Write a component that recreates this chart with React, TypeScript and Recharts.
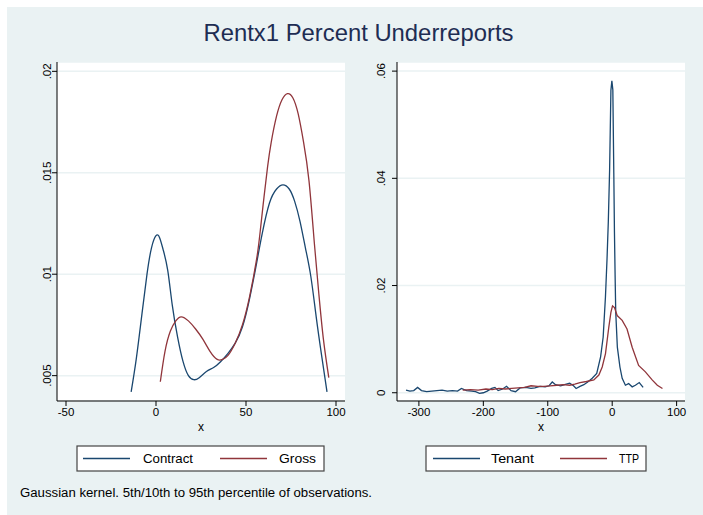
import { LineChart, Line, XAxis, YAxis, CartesianGrid } from "recharts";

// left panel: Contract / Gross densities
const contractX = [-13.8, -11, -8, -5, -2.5, 0, 2, 4, 6.5, 9, 12, 15, 18, 21, 24, 28, 32, 36, 40, 44, 48, 52, 56, 59, 63, 67, 70.5, 74, 77, 80, 83, 86, 89, 92, 95];
const contractY = [0.0042, 0.0058, 0.0079, 0.01, 0.0113, 0.0119, 0.0118, 0.0112, 0.0102, 0.0085, 0.0069, 0.0057, 0.005, 0.0048, 0.0049, 0.0052, 0.0054, 0.0057, 0.0061, 0.0066, 0.0074, 0.0088, 0.0106, 0.012, 0.0135, 0.0142, 0.0144, 0.0142, 0.0136, 0.0126, 0.0113, 0.0099, 0.0079, 0.006, 0.0042];
const grossX = [2.4, 5, 8, 11, 14, 18, 22, 26, 30, 34, 37, 40, 44, 48, 52, 56, 58, 60, 62, 64, 67, 70, 73, 76, 79, 82, 85, 88, 90.5, 93, 96];
const grossY = [0.0047, 0.0062, 0.0072, 0.0077, 0.0079, 0.0077, 0.0073, 0.0068, 0.0062, 0.0058, 0.0058, 0.006, 0.0066, 0.0075, 0.0089, 0.0108, 0.0122, 0.0138, 0.0153, 0.0165, 0.0178, 0.0186, 0.0189, 0.0187, 0.0179, 0.0165, 0.0146, 0.0115, 0.009, 0.0068, 0.0049];

// right panel: Tenant / TTP densities
const tenantX = [-320, -314, -308, -302, -296, -288, -280, -272, -264, -256, -248, -240, -234, -226, -218, -212, -206, -200, -194, -187, -182, -177, -170, -164, -157, -150, -143, -134, -126, -120, -112, -104, -98, -93, -88, -80, -74, -66, -60, -56, -50, -44, -38, -31, -24, -18, -14, -10.5, -8, -6, -4, -2, -0.5, 1, 2.5, 3.5, 4.5, 5.5, 8, 12, 15.5, 20.5, 25.5, 31, 36, 42, 48];
const tenantY = [0.0005, 0.0003, 0.0004, 0.001, 0.0004, 0.0002, 0.0003, 0.0004, 0.0005, 0.0003, 0.0004, 0.0003, 0.0008, 0.0004, 0.0003, 0.0002, -0.0001, 0.0, 0.0003, 0.0008, 0.001, 0.0004, 0.0007, 0.0012, 0.0004, 0.0002, 0.0009, 0.001, 0.0008, 0.0009, 0.0012, 0.0011, 0.0013, 0.002, 0.0015, 0.0013, 0.0015, 0.0018, 0.0013, 0.0008, 0.0012, 0.0015, 0.002, 0.0027, 0.0036, 0.0067, 0.0104, 0.0178, 0.025, 0.032, 0.0416, 0.0564, 0.0582, 0.0565, 0.041, 0.03, 0.022, 0.015, 0.0085, 0.0048, 0.0027, 0.0014, 0.0017, 0.0011, 0.0014, 0.0019, 0.001];
const ttpX = [-232, -220, -208, -196, -186, -176, -166, -156, -146, -136, -126, -116, -106, -96, -86, -76, -66, -58, -50, -40, -28.5, -20.7, -15.5, -10.4, -5.3, -2, 0.5, 3.6, 7.7, 15.5, 23, 31, 41, 51.5, 62, 70, 78];
const ttpY = [0.0005, 0.0006, 0.0005, 0.0007, 0.0006, 0.0008, 0.0007, 0.0008, 0.0009, 0.001, 0.0013, 0.0012, 0.0012, 0.0013, 0.0014, 0.0015, 0.0014, 0.0016, 0.0019, 0.0021, 0.0024, 0.0033, 0.0048, 0.0073, 0.0122, 0.015, 0.0162, 0.0159, 0.0144, 0.0135, 0.0119, 0.0085, 0.0051, 0.0039, 0.0024, 0.0014, 0.0008];

const leftXTicks = [-50, 0, 50, 100];
const leftYTicks = [0.005, 0.01, 0.015, 0.02];
const rightXTicks = [-300, -200, -100, 0, 100];
const rightYTicks = [0, 0.02, 0.04, 0.06];

const BG = "#EAF2F3";
const NAVY = "#1A476F";
const MAROON = "#90353B";
const FONT = '"Liberation Sans", Arial, sans-serif';

const rows = (xs: number[], ys: number[]) => xs.map((x, i) => ({ x, y: ys[i] }));

// stata style: .02 instead of 0.02
const fmt = (v: number) => (v === 0 ? "0" : String(v).replace(/^(-?)0\./, "$1."));

const yTick = (gap: number) => (props: any) => {
  const { x, y, payload } = props;
  const tx = x - gap;
  return (
    <text x={tx} y={y} transform={`rotate(-90 ${tx} ${y})`} textAnchor="middle" fontSize={11.5} fill="#000" fontFamily={FONT}>
      {fmt(payload.value)}
    </text>
  );
};

type Series = { name: string; color: string; data: { x: number; y: number }[] };

function Panel(props: {
  left: number;
  width: number;
  marginLeft: number;
  xDomain: [number, number];
  yDomain: [number, number];
  xTicks: number[];
  yTicks: number[];
  yGap: number;
  curve: "natural" | "linear";
  series: Series[];
}) {
  return (
    <div style={{ position: "absolute", left: props.left, top: 0 }}>
      <LineChart width={props.width} height={440} margin={{ top: 62, right: 15, bottom: 9, left: props.marginLeft }}>
        <CartesianGrid vertical={false} stroke={BG} strokeWidth={1.5} fill="#fff" />
        <XAxis
          type="number"
          dataKey="x"
          domain={props.xDomain}
          ticks={props.xTicks}
          allowDataOverflow
          height={30}
          tickSize={5}
          tickMargin={2}
          stroke="#000"
          tick={{ fill: "#000", fontSize: 11.5, fontFamily: FONT }}
          label={{ value: "x", position: "insideBottom", offset: 0, fill: "#000", fontSize: 12, fontFamily: FONT }}
        />
        <YAxis
          type="number"
          dataKey="y"
          domain={props.yDomain}
          ticks={props.yTicks}
          allowDataOverflow
          width={30}
          tickSize={5}
          tickMargin={0}
          stroke="#000"
          tick={yTick(props.yGap)}
        />
        {props.series.map((s) => (
          <Line
            key={s.name}
            data={s.data}
            dataKey="y"
            name={s.name}
            type={props.curve}
            stroke={s.color}
            strokeWidth={1.3}
            dot={false}
            isAnimationActive={false}
          />
        ))}
      </LineChart>
    </div>
  );
}

function LegendBox(props: { x: number; width: number; items: { name: string; color: string; lx: number; tx: number; tw: number }[] }) {
  return (
    <g>
      <rect x={props.x} y={446} width={props.width} height={25} fill="#fff" stroke="#444" strokeWidth={1.2} />
      {props.items.map((it) => (
        <g key={it.name}>
          <line x1={it.lx} x2={it.lx + 47} y1={458.5} y2={458.5} stroke={it.color} strokeWidth={1.3} />
          <text x={it.tx} y={463} fontSize={13} fontFamily={FONT} fill="#000" textLength={it.tw} lengthAdjust="spacingAndGlyphs">
            {it.name}
          </text>
        </g>
      ))}
    </g>
  );
}

export default function App() {
  return (
    <div style={{ position: "absolute", left: 0, top: 0, width: 703, height: 515, background: "#fff", overflow: "hidden" }}>
      <div style={{ position: "absolute", left: 7, top: 7, width: 696, height: 508, background: BG }} />
      <Panel
        left={0}
        width={360}
        marginLeft={27}
        xDomain={[-55, 105]}
        yDomain={[0.00375, 0.02046]}
        xTicks={leftXTicks}
        yTicks={leftYTicks}
        yGap={1}
        curve="natural"
        series={[
          { name: "Contract", color: NAVY, data: rows(contractX, contractY) },
          { name: "Gross", color: MAROON, data: rows(grossX, grossY) },
        ]}
      />
      <Panel
        left={350}
        width={350}
        marginLeft={17}
        xDomain={[-334, 113]}
        yDomain={[-0.00154, 0.0617]}
        xTicks={rightXTicks}
        yTicks={rightYTicks}
        yGap={7}
        curve="linear"
        series={[
          { name: "Tenant", color: NAVY, data: rows(tenantX, tenantY) },
          { name: "TTP", color: MAROON, data: rows(ttpX, ttpY) },
        ]}
      />
      <svg width={703} height={515} style={{ position: "absolute", left: 0, top: 0, pointerEvents: "none" }}>
        <text x={358.5} y={41} textAnchor="middle" fontSize={24} fontFamily={FONT} fill="#1E2D53" textLength={310} lengthAdjust="spacingAndGlyphs">
          Rentx1 Percent Underreports
        </text>
        <LegendBox
          x={77}
          width={247}
          items={[
            { name: "Contract", color: NAVY, lx: 83, tx: 143, tw: 50 },
            { name: "Gross", color: MAROON, lx: 220, tx: 279, tw: 37 },
          ]}
        />
        <LegendBox
          x={426}
          width={220}
          items={[
            { name: "Tenant", color: NAVY, lx: 433, tx: 491, tw: 43 },
            { name: "TTP", color: MAROON, lx: 560, tx: 619, tw: 20 },
          ]}
        />
        <text x={20} y={497} fontSize={12} fontFamily={FONT} fill="#000" textLength={352} lengthAdjust="spacingAndGlyphs">
          Gaussian kernel. 5th/10th to 95th percentile of observations.
        </text>
      </svg>
    </div>
  );
}
